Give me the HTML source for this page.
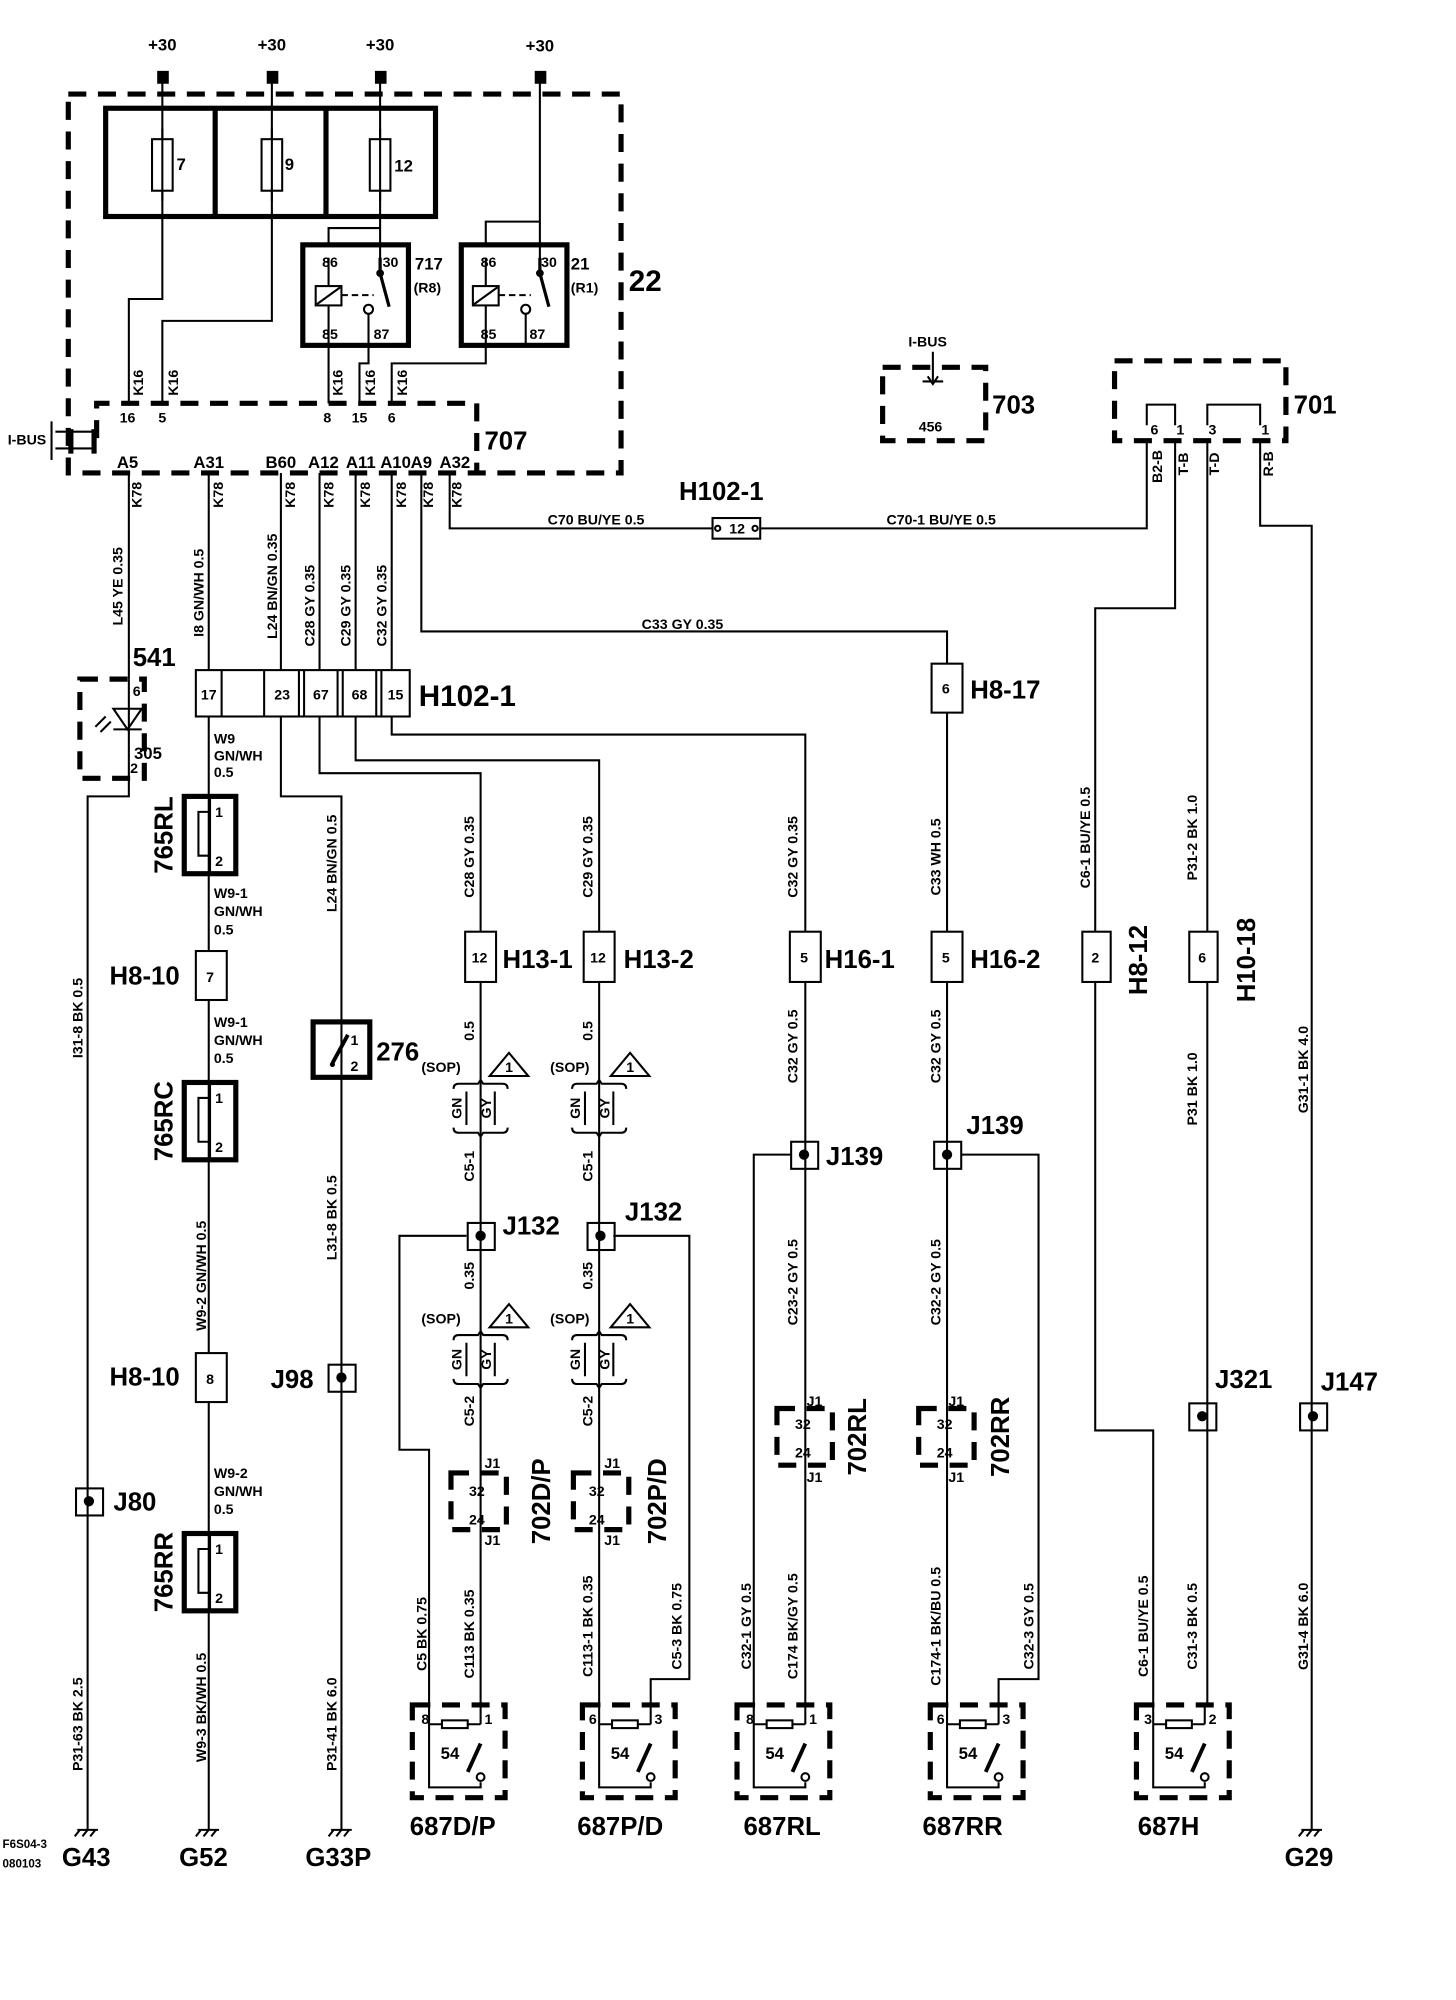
<!DOCTYPE html>
<html><head><meta charset="utf-8"><style>
html,body{margin:0;padding:0;background:#fff}
svg{display:block}
text{font-family:"Liberation Sans",Arial,sans-serif;font-weight:bold;fill:#000}
.s{font-size:11px}.m{font-size:13px}.L{font-size:20px}.X{font-size:23px}
.w{stroke:#000;stroke-width:1.6;fill:none}
.t{stroke:#000;stroke-width:4;fill:none}
.d{stroke:#000;stroke-width:4;fill:none;stroke-dasharray:14 9}
.b{stroke:#000;stroke-width:1.6;fill:#fff}
</style></head><body>
<svg width="1456" height="2000" viewBox="0 0 1130 1552" preserveAspectRatio="none" xmlns="http://www.w3.org/2000/svg">
<defs>
<g id="sw">
<rect x="0" y="0" width="72" height="72" class="d" stroke-dasharray="10 6"/>
<path class="w" d="M13 0V64H53V60M53 0V15M13 15H53"/>
<rect x="23" y="12" width="20" height="6" class="b"/>
<path d="M43 52L53 30" stroke="#000" stroke-width="3"/>
<circle cx="53" cy="56" r="3" class="b"/>
<text x="22" y="42" class="m">54</text>
</g>
<g id="gnd"><path class="w" d="M0 0V10M-8 10H8M-6 10l-4 5M0 10l-4 5M6 10l-4 5"/></g>
<g id="sop">
<path class="w" d="M-21 0q0 -4 4 -4h15l2 -3l2 3h15q4 0 4 4M-21 30q0 4 4 4h15l2 3l2 -3h15q4 0 4 -4M-11 2V28M11 2V28"/>
<text class="s" transform="translate(-15,15) rotate(-90)" text-anchor="middle">GN</text>
<text class="s" transform="translate(8,15) rotate(-90)" text-anchor="middle">GY</text>
</g>
<g id="tri"><path class="w" d="M0 18L15 0L30 18Z"/><text x="12" y="15" class="s">1</text></g>
<g id="jn"><rect x="-10" y="-10" width="21" height="21" class="w" stroke-width="2" fill="#fff"/><circle cx="0" cy="0" r="4"/></g>
<g id="sw765"><rect x="0" y="0" width="40" height="60" class="t" fill="#fff"/><path class="w" d="M20 0V12H11V46H20V60"/><path class="w" d="M20 12V46"/><text x="24" y="16" class="s">1</text><text x="24" y="54" class="s">2</text></g>
</defs>

<g class="m" text-anchor="middle">
<text x="126" y="39">+30</text><text x="211" y="39">+30</text><text x="295" y="39">+30</text><text x="419" y="40">+30</text></g>
<rect x="122" y="55" width="9" height="10"/><rect x="207" y="55" width="9" height="10"/><rect x="291" y="55" width="9" height="10"/><rect x="415" y="55" width="9" height="10"/>
<path class="w" d="M126 60V232H100V313M211 60V249H126V313M295 60V207M419 60V207"/>

<rect x="53" y="73" width="429" height="294" class="d"/>
<rect x="82" y="84" width="256" height="84" class="t" fill="none"/>
<path class="t" d="M167 84V168M253 84V168"/>
<rect x="118" y="108" width="16" height="40" class="b"/><rect x="203" y="108" width="16" height="40" class="b"/><rect x="287" y="108" width="16" height="40" class="b"/>
<path class="w" d="M126 100V156M211 100V156M295 100V156"/>
<text x="137" y="132" class="m">7</text><text x="221" y="132" class="m">9</text><text x="306" y="133" class="m">12</text>

<rect x="235" y="190" width="82" height="78" class="t"/>
<path class="w" d="M255 190V177H295M255 200V223M255 237V313M286 244V282H279V313"/>
<rect x="245" y="222" width="20" height="15" class="b"/><path class="w" d="M246 236L264 223"/>
<path class="w" d="M265 229H290" stroke-dasharray="5 3"/>
<path d="M295 200V212L302 238" stroke="#000" stroke-width="2.5" fill="none"/><circle cx="295" cy="212" r="3"/>
<circle cx="286" cy="240" r="3.5" class="b"/>
<text x="250" y="207" class="s">86</text><text x="297" y="207" class="s">30</text><text x="250" y="263" class="s">85</text><text x="290" y="263" class="s">87</text>
<text x="322" y="209" class="m">717</text><text x="321" y="227" class="s">(R8)</text>
<rect x="358" y="190" width="82" height="78" class="t"/>
<path class="w" d="M377 190V172H419M377 200V223M377 237V282H304V313M408 244V268"/>
<rect x="367" y="222" width="20" height="15" class="b"/><path class="w" d="M368 236L386 223"/>
<path class="w" d="M387 229H412" stroke-dasharray="5 3"/>
<path d="M419 200V212L426 238" stroke="#000" stroke-width="2.5" fill="none"/><circle cx="419" cy="212" r="3"/>
<circle cx="408" cy="240" r="3.5" class="b"/>
<text x="373" y="207" class="s">86</text><text x="420" y="207" class="s">30</text><text x="373" y="263" class="s">85</text><text x="411" y="263" class="s">87</text>
<text x="443" y="209" class="m">21</text><text x="443" y="227" class="s">(R1)</text>
<text x="488" y="226" class="X">22</text>

<path class="d" d="M75 340V313H370V367" stroke-dasharray="12 8"/>
<text x="376" y="349" class="L">707</text>
<g class="s" text-anchor="middle"><text x="99" y="328">16</text><text x="126" y="328">5</text><text x="254" y="328">8</text><text x="279" y="328">15</text><text x="304" y="328">6</text></g>
<g class="s" text-anchor="middle">
<text transform="translate(111,297) rotate(-90)">K16</text><text transform="translate(138,297) rotate(-90)">K16</text><text transform="translate(266,297) rotate(-90)">K16</text><text transform="translate(291,297) rotate(-90)">K16</text><text transform="translate(316,297) rotate(-90)">K16</text></g>
<text x="6" y="345" class="s">I-BUS</text>
<path class="w" d="M40 327V357M43 335H73M43 348H73" stroke-width="2"/><path class="t" d="M55 333V352M73 333V352"/>
<g class="m" text-anchor="middle"><text x="99" y="363">A5</text><text x="162" y="363">A31</text><text x="218" y="363">B60</text><text x="251" y="363">A12</text><text x="280" y="363">A11</text><text x="307" y="363">A10</text><text x="327" y="363">A9</text><text x="353" y="363">A32</text></g>
<g class="s" text-anchor="middle">
<text transform="translate(110,384) rotate(-90)">K78</text><text transform="translate(173,384) rotate(-90)">K78</text><text transform="translate(229,384) rotate(-90)">K78</text><text transform="translate(259,384) rotate(-90)">K78</text><text transform="translate(287,384) rotate(-90)">K78</text><text transform="translate(315,384) rotate(-90)">K78</text><text transform="translate(336,384) rotate(-90)">K78</text><text transform="translate(358,384) rotate(-90)">K78</text></g>

<path class="w" d="M100 367V527M162 367V520M218 367V520M248 367V520M276 367V520M304 367V520M327 367V490H735V515M349 367V410H553M590 410H890V342M912 342V472H850V1110H895V1323M937 342V1323M978 342V408H1018V1410"/>
<g class="s" text-anchor="middle">
<text transform="translate(95,455) rotate(-90)">L45  YE  0.35</text>
<text transform="translate(158,460) rotate(-90)">I8   GN/WH  0.5</text>
<text transform="translate(215,455) rotate(-90)">L24 BN/GN 0.35</text>
<text transform="translate(244,470) rotate(-90)">C28 GY  0.35</text>
<text transform="translate(272,470) rotate(-90)">C29 GY  0.35</text>
<text transform="translate(300,470) rotate(-90)">C32 GY  0.35</text></g>
<text x="425" y="407" class="s">C70   BU/YE  0.5</text>
<text x="688" y="407" class="s">C70-1   BU/YE   0.5</text>
<text x="498" y="488" class="s">C33    GY    0.35</text>
<text x="527" y="388" class="L">H102-1</text>
<rect x="553" y="402" width="37" height="16" class="b"/><text x="566" y="414" class="s">12</text>
<circle cx="557" cy="410" r="2" class="b"/><circle cx="586" cy="410" r="2" class="b"/>

<text x="705" y="269" class="s">I-BUS</text>
<rect x="685" y="285" width="80" height="57" class="d" stroke-dasharray="10 6"/>
<path class="w" d="M724 273V296M716 296H722M726 296H732M720 292l4 6l4 -6"/>
<text x="713" y="335" class="s">456</text>
<text x="770" y="321" class="L">703</text>
<rect x="865" y="280" width="133" height="62" class="d" stroke-dasharray="10 6"/>
<path class="w" d="M890 330V314H912V330M937 330V314H978V330"/>
<g class="s" text-anchor="middle"><text x="896" y="337">6</text><text x="916" y="337">1</text><text x="941" y="337">3</text><text x="982" y="337">1</text>
<text transform="translate(902,362) rotate(-90)">B2-B</text><text transform="translate(922,360) rotate(-90)">T-B</text><text transform="translate(946,360) rotate(-90)">T-D</text><text transform="translate(988,360) rotate(-90)">R-B</text></g>
<text x="1004" y="321" class="L">701</text>

<rect x="152" y="520" width="166" height="36" class="b"/>
<path class="w" d="M172 520V556M205 520V556M232 520V556M236 520V556M262 520V556M266 520V556M292 520V556M296 520V556"/>
<g class="s" text-anchor="middle"><text x="162" y="543">17</text><text x="219" y="543">23</text><text x="249" y="543">67</text><text x="279" y="543">68</text><text x="307" y="543">15</text></g>
<text x="325" y="548" class="X">H102-1</text>

<text x="103" y="517" class="L">541</text>
<rect x="62" y="527" width="50" height="77" class="d" stroke-dasharray="10 6"/>
<path class="w" d="M100 527V618H68V1410"/>
<path class="w" d="M88 550H110L99 566ZM88 566H110"/><path class="w" d="M86 560l-8 8M82 556l-8 8"/>
<text x="103" y="540" class="s">6</text><text x="104" y="589" class="m">305</text><text x="101" y="600" class="s">2</text>
<g class="s" text-anchor="middle"><text transform="translate(64,790) rotate(-90)">I31-8  BK  0.5</text><text transform="translate(64,1338) rotate(-90)">P31-63  BK  2.5</text></g>
<use href="#jn" x="69" y="1165"/><text x="88" y="1172" class="L">J80</text>

<path class="w" d="M162 556V1410"/>
<g class="s"><text x="166" y="577">W9</text><text x="166" y="590">GN/WH</text><text x="166" y="603">0.5</text>
<text x="166" y="697">W9-1</text><text x="166" y="711">GN/WH</text><text x="166" y="725">0.5</text>
<text x="166" y="797">W9-1</text><text x="166" y="811">GN/WH</text><text x="166" y="825">0.5</text>
<text x="166" y="1147">W9-2</text><text x="166" y="1161">GN/WH</text><text x="166" y="1175">0.5</text></g>
<use href="#sw765" x="143" y="618"/><use href="#sw765" x="143" y="840"/><use href="#sw765" x="143" y="1190"/>
<g class="L" text-anchor="middle"><text transform="translate(134,648) rotate(-90)">765RL</text><text transform="translate(134,870) rotate(-90)">765RC</text><text transform="translate(134,1220) rotate(-90)">765RR</text></g>
<rect x="152" y="738" width="24" height="38" class="b"/><text x="160" y="762" class="s">7</text>
<rect x="152" y="1050" width="24" height="38" class="b"/><text x="160" y="1074" class="s">8</text>
<text x="85" y="764" class="L">H8-10</text><text x="85" y="1075" class="L">H8-10</text>
<g class="s" text-anchor="middle"><text transform="translate(160,990) rotate(-90)">W9-2   GN/WH   0.5</text><text transform="translate(160,1325) rotate(-90)">W9-3   BK/WH  0.5</text></g>

<path class="w" d="M218 556V618H265V1410"/>
<g class="s" text-anchor="middle"><text transform="translate(261,670) rotate(-90)">L24   BN/GN  0.5</text><text transform="translate(261,945) rotate(-90)">L31-8  BK  0.5</text><text transform="translate(261,1338) rotate(-90)">P31-41  BK  6.0</text></g>
<rect x="243" y="793" width="44" height="43" class="t" fill="#fff"/>
<path d="M258 825L270 803" stroke="#000" stroke-width="3"/><circle cx="258" cy="826" r="2"/>
<text x="272" y="811" class="s">1</text><text x="272" y="831" class="s">2</text>
<text x="292" y="823" class="L">276</text>
<use href="#jn" x="265" y="1069"/><text x="210" y="1077" class="L">J98</text>

<path class="w" d="M248 556V600H373V1323M362 959H310V1125H333V1323"/>
<g class="s" text-anchor="middle"><text transform="translate(368,665) rotate(-90)">C28  GY  0.35</text><text transform="translate(368,800) rotate(-90)">0.5</text><text transform="translate(368,905) rotate(-90)">C5-1</text><text transform="translate(368,990) rotate(-90)">0.35</text><text transform="translate(368,1095) rotate(-90)">C5-2</text>
<text transform="translate(331,1268) rotate(-90)">C5   BK   0.75</text><text transform="translate(368,1268) rotate(-90)">C113  BK  0.35</text></g>
<rect x="361" y="723" width="24" height="39" class="b"/><text x="366" y="747" class="s">12</text><text x="390" y="751" class="L">H13-1</text>
<text x="327" y="832" class="s">(SOP)</text><use href="#tri" x="380" y="817"/><use href="#sop" x="373" y="845"/>
<use href="#jn" x="373" y="959"/><text x="390" y="958" class="L">J132</text>
<text x="327" y="1027" class="s">(SOP)</text><use href="#tri" x="380" y="1012"/><use href="#sop" x="373" y="1040"/>
<rect x="350" y="1143" width="43" height="44" class="d" stroke-dasharray="9 6" fill="#fff"/>
<text x="364" y="1161" class="s">32</text><text x="364" y="1183" class="s">24</text><text x="376" y="1139" class="s">J1</text><text x="376" y="1199" class="s">J1</text>
<text class="L" transform="translate(427,1165) rotate(-90)" text-anchor="middle">702D/P</text>
<use href="#sw" x="320" y="1323"/><text x="327" y="1338" class="s">8</text><text x="376" y="1338" class="s">1</text>
<text x="318" y="1424" class="L">687D/P</text>

<path class="w" d="M276 556V590H465V1323M476 959H535V1303H505V1323"/>
<g class="s" text-anchor="middle"><text transform="translate(460,665) rotate(-90)">C29  GY  0.35</text><text transform="translate(460,800) rotate(-90)">0.5</text><text transform="translate(460,905) rotate(-90)">C5-1</text><text transform="translate(460,990) rotate(-90)">0.35</text><text transform="translate(460,1095) rotate(-90)">C5-2</text>
<text transform="translate(460,1262) rotate(-90)">C113-1  BK  0.35</text><text transform="translate(529,1262) rotate(-90)">C5-3    BK    0.75</text></g>
<rect x="453" y="723" width="24" height="39" class="b"/><text x="458" y="747" class="s">12</text><text x="484" y="751" class="L">H13-2</text>
<text x="427" y="832" class="s">(SOP)</text><use href="#tri" x="474" y="817"/><use href="#sop" x="465" y="845"/>
<use href="#jn" x="466" y="959"/><text x="485" y="947" class="L">J132</text>
<text x="427" y="1027" class="s">(SOP)</text><use href="#tri" x="474" y="1012"/><use href="#sop" x="465" y="1040"/>
<rect x="445" y="1143" width="43" height="44" class="d" stroke-dasharray="9 6" fill="#fff"/>
<text x="457" y="1161" class="s">32</text><text x="457" y="1183" class="s">24</text><text x="469" y="1139" class="s">J1</text><text x="469" y="1199" class="s">J1</text>
<text class="L" transform="translate(517,1165) rotate(-90)" text-anchor="middle">702P/D</text>
<use href="#sw" x="452" y="1323"/><text x="457" y="1338" class="s">6</text><text x="508" y="1338" class="s">3</text>
<text x="448" y="1424" class="L">687P/D</text>

<path class="w" d="M304 556V570H625V1323M614 896H585V1323"/>
<g class="s" text-anchor="middle"><text transform="translate(619,665) rotate(-90)">C32  GY  0.35</text><text transform="translate(619,812) rotate(-90)">C32   GY   0.5</text><text transform="translate(619,995) rotate(-90)">C23-2   GY   0.5</text>
<text transform="translate(583,1262) rotate(-90)">C32-1  GY   0.5</text><text transform="translate(619,1262) rotate(-90)">C174 BK/GY  0.5</text></g>
<rect x="613" y="723" width="24" height="39" class="b"/><text x="621" y="747" class="s">5</text><text x="640" y="751" class="L">H16-1</text>
<use href="#jn" x="624" y="896"/><text x="641" y="904" class="L">J139</text>
<rect x="603" y="1093" width="43" height="44" class="d" stroke-dasharray="9 6" fill="#fff"/>
<text x="617" y="1109" class="s">32</text><text x="617" y="1131" class="s">24</text><text x="626" y="1091" class="s">J1</text><text x="626" y="1150" class="s">J1</text>
<text class="L" transform="translate(672,1115) rotate(-90)" text-anchor="middle">702RL</text>
<use href="#sw" x="572" y="1323"/><text x="579" y="1338" class="s">8</text><text x="628" y="1338" class="s">1</text>
<text x="577" y="1424" class="L">687RL</text>

<path class="w" d="M735 553V1323M746 896H806V1303H775V1323"/>
<rect x="723" y="515" width="24" height="38" class="b"/><text x="731" y="538" class="s">6</text><text x="753" y="542" class="L">H8-17</text>
<g class="s" text-anchor="middle"><text transform="translate(730,665) rotate(-90)">C33   WH   0.5</text><text transform="translate(730,812) rotate(-90)">C32   GY   0.5</text><text transform="translate(730,995) rotate(-90)">C32-2   GY   0.5</text>
<text transform="translate(730,1262) rotate(-90)">C174-1 BK/BU  0.5</text><text transform="translate(802,1262) rotate(-90)">C32-3  GY   0.5</text></g>
<rect x="723" y="723" width="24" height="39" class="b"/><text x="731" y="747" class="s">5</text><text x="753" y="751" class="L">H16-2</text>
<use href="#jn" x="735" y="896"/><text x="750" y="880" class="L">J139</text>
<rect x="713" y="1093" width="43" height="44" class="d" stroke-dasharray="9 6" fill="#fff"/>
<text x="727" y="1109" class="s">32</text><text x="727" y="1131" class="s">24</text><text x="736" y="1091" class="s">J1</text><text x="736" y="1150" class="s">J1</text>
<text class="L" transform="translate(783,1115) rotate(-90)" text-anchor="middle">702RR</text>
<use href="#sw" x="722" y="1323"/><text x="727" y="1338" class="s">6</text><text x="778" y="1338" class="s">3</text>
<text x="716" y="1424" class="L">687RR</text>

<g class="s" text-anchor="middle"><text transform="translate(846,650) rotate(-90)">C6-1  BU/YE  0.5</text><text transform="translate(929,650) rotate(-90)">P31-2   BK   1.0</text><text transform="translate(929,845) rotate(-90)">P31   BK   1.0</text>
<text transform="translate(891,1262) rotate(-90)">C6-1 BU/YE  0.5</text><text transform="translate(929,1262) rotate(-90)">C31-3  BK  0.5</text>
<text transform="translate(1015,830) rotate(-90)">G31-1   BK   4.0</text><text transform="translate(1015,1262) rotate(-90)">G31-4  BK  6.0</text></g>
<rect x="840" y="723" width="22" height="39" class="b"/><text x="847" y="747" class="s">2</text>
<rect x="923" y="723" width="22" height="39" class="b"/><text x="930" y="747" class="s">6</text>
<text class="L" transform="translate(890,745) rotate(-90)" text-anchor="middle">H8-12</text>
<text class="L" transform="translate(974,745) rotate(-90)" text-anchor="middle">H10-18</text>
<use href="#jn" x="933" y="1099"/><text x="943" y="1077" class="L">J321</text>
<use href="#jn" x="1019" y="1099"/><text x="1025" y="1079" class="L">J147</text>
<use href="#sw" x="882" y="1323"/><text x="888" y="1338" class="s">3</text><text x="938" y="1338" class="s">2</text>
<text x="883" y="1424" class="L">687H</text>

<use href="#gnd" x="68" y="1410"/><use href="#gnd" x="162" y="1410"/><use href="#gnd" x="265" y="1410"/><use href="#gnd" x="1018" y="1410"/>
<text x="48" y="1448" class="L">G43</text><text x="139" y="1448" class="L">G52</text><text x="237" y="1448" class="L">G33P</text><text x="997" y="1448" class="L">G29</text>
<text x="2" y="1434" style="font-size:9px">F6S04-3</text><text x="2" y="1449" style="font-size:9px">080103</text>
</svg>
</body></html>
